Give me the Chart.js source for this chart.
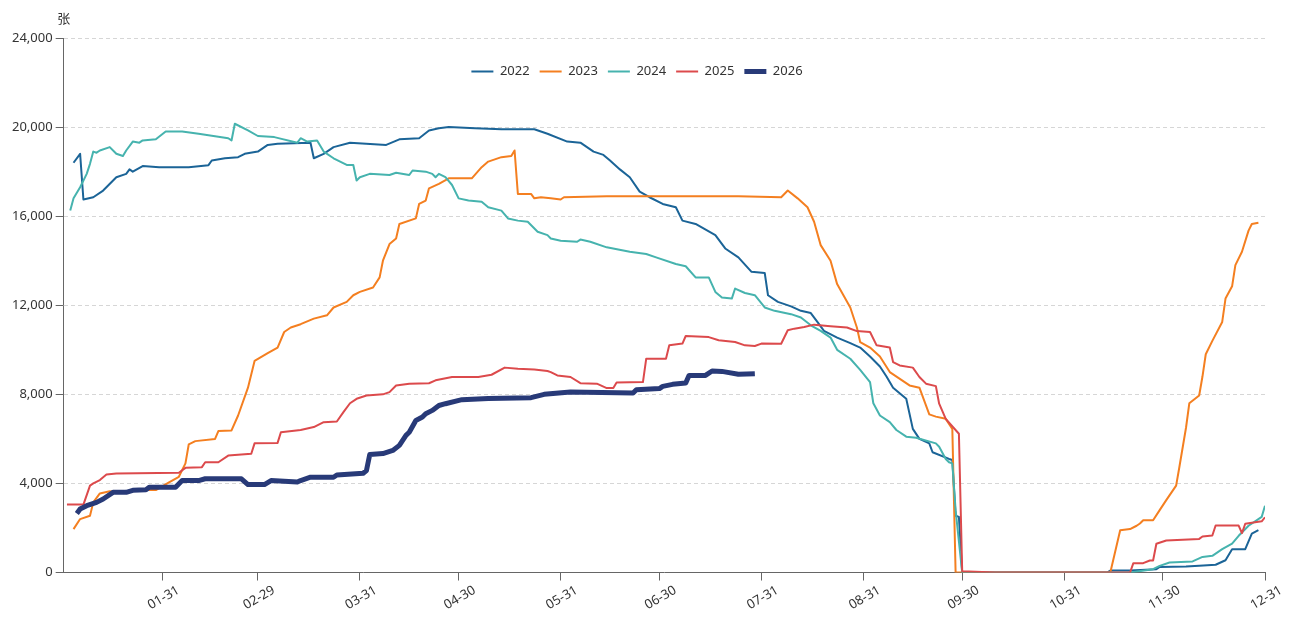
<!DOCTYPE html>
<html>
<head>
<meta charset="utf-8">
<script src="https://cdn.jsdelivr.net/npm/chart.js@4.4.1/dist/chart.umd.min.js"></script>
<style>
  html, body { margin: 0; padding: 0; background: #fff; }
  #box { width: 1291px; height: 625px; position: relative; }
</style>
</head>
<body>
<div id="box"><canvas id="kucun"></canvas></div>
<script>
// eixo x: dia do ano (0 = 01-01), rótulos no fim de cada mês
const tickDays = [30, 59, 90, 120, 151, 181, 212, 243, 273, 304, 334, 365];
const tickLabels = ['01-31', '02-29', '03-31', '04-30', '05-31', '06-30', '07-31', '08-31', '09-30', '10-31', '11-30', '12-31'];
const yTicks = [0, 4000, 8000, 12000, 16000, 20000, 24000];
const years = ['2022', '2023', '2024', '2025', '2026'];

const days2022 = [3,5,6,9,12,16,19,20,21,24,29,38,44,45,49,53,55,59,62,65,75,76,79,82,87,98,102,108,111,114,117,125,133,143,147,153,157,161,164,166,169,172,175,178,182,186,188,192,198,201,205,209,213,214,217,221,224,227,229,231,235,239,242,245,248,250,252,256,258,260,263,264,269,270,271,272,273,317,318,324,332,333,341,345,350,353,355,359,361,363];
const vals2022 = [18400,18800,16750,16850,17150,17750,17900,18100,18000,18250,18200,18200,18290,18500,18600,18650,18800,18900,19200,19250,19300,18600,18800,19100,19300,19200,19450,19500,19850,19950,20000,19950,19900,19900,19700,19350,19300,18900,18750,18500,18100,17750,17100,16850,16550,16400,15800,15650,15150,14550,14150,13500,13450,12450,12150,11950,11750,11650,11250,10850,10550,10300,10100,9700,9250,8800,8300,7800,6450,6000,5800,5400,5100,5050,2550,2500,0,0,90,90,150,250,270,300,350,550,1050,1050,1750,1900];

const days2023 = [3,5,8,9,11,14,17,25,28,32,35,37,38,40,46,47,51,53,56,58,62,65,67,69,72,76,80,82,86,88,90,94,96,97,99,101,102,107,108,110,111,114,117,124,127,129,133,136,137,138,142,143,145,148,151,152,165,185,205,218,220,223,226,228,230,233,235,239,241,242,245,248,251,257,260,263,265,268,270,271,318,321,324,326,327,328,331,333,335,338,339,341,342,345,346,347,349,352,353,355,356,358,360,361,363];
const vals2023 = [1950,2400,2550,3150,3550,3650,3600,3700,3700,4050,4300,4900,5750,5900,6000,6350,6380,7050,8300,9500,9850,10100,10800,11000,11150,11400,11550,11900,12150,12450,12600,12800,13250,14000,14750,15000,15650,15900,16550,16700,17250,17450,17700,17700,18200,18450,18650,18700,18950,17000,17000,16800,16850,16800,16750,16850,16900,16900,16900,16850,17150,16800,16400,15750,14700,14000,12950,11900,11000,10350,10100,9700,9000,8400,8300,7100,7000,6900,6450,0,0,1900,1950,2100,2200,2350,2350,2800,3250,3900,4750,6500,7600,7950,8800,9800,10400,11250,12300,12850,13800,14400,15350,15650,15700];

const days2024 = [2,3,4,5,7,8,9,10,11,14,16,18,19,21,23,24,28,31,36,41,50,51,52,56,59,64,71,72,74,77,79,82,86,88,89,90,93,99,101,105,106,110,112,113,114,116,118,120,123,127,129,133,135,138,141,144,147,148,151,156,157,160,165,172,177,180,186,189,192,196,198,200,203,204,207,210,213,216,221,224,227,230,233,235,239,242,245,246,248,251,253,256,259,265,266,268,269,270,271,273,324,331,333,336,343,346,349,352,355,357,360,364,365];
const vals2024 = [16250,16800,17050,17300,17900,18350,18900,18850,18950,19100,18800,18700,18950,19350,19300,19400,19450,19800,19800,19700,19500,19400,20150,19850,19600,19550,19300,19500,19350,19400,18900,18600,18300,18300,17600,17750,17900,17850,17950,17850,18050,18000,17900,17750,17900,17750,17400,16800,16700,16650,16400,16250,15900,15800,15750,15300,15150,15000,14900,14850,14950,14850,14600,14400,14300,14150,13850,13750,13250,13250,12600,12350,12300,12750,12550,12450,11900,11750,11600,11450,11100,10850,10550,10000,9600,9100,8550,7600,7050,6750,6400,6100,6050,5800,5650,5100,4950,4900,2800,0,0,150,300,450,500,700,750,1050,1300,1650,2100,2500,3000];

const days2025 = [1,6,8,9,11,13,16,35,37,42,43,47,50,57,58,65,66,72,76,79,83,85,87,89,92,97,99,101,105,111,113,118,126,130,134,138,143,147,148,150,154,157,162,165,167,168,176,177,183,184,188,189,196,199,204,207,210,212,218,220,222,225,228,233,238,241,245,247,251,252,254,258,260,262,265,266,268,272,273,283,324,325,328,330,331,332,335,345,346,349,350,357,358,359,364,365];
const vals2025 = [3050,3050,3900,4000,4150,4400,4450,4480,4700,4730,4950,4950,5250,5330,5800,5820,6300,6400,6530,6750,6780,7200,7600,7800,7950,8000,8100,8400,8480,8500,8630,8780,8780,8880,9200,9150,9120,9050,9000,8850,8780,8500,8480,8280,8280,8530,8550,9600,9600,10200,10280,10620,10570,10430,10350,10200,10170,10280,10270,10880,10950,11020,11130,11060,11000,10840,10800,10200,10100,9450,9300,9200,8780,8480,8370,7580,6900,6230,60,0,0,420,420,540,540,1290,1440,1510,1620,1660,2110,2110,1770,2190,2300,2480];

const days2026 = [4,5,7,10,12,15,19,21,25,26,34,36,41,43,54,56,61,63,71,72,75,82,83,91,92,93,97,100,102,104,105,107,109,110,112,114,116,121,129,142,146,154,173,174,181,182,185,189,190,195,197,200,205,210];
const vals2026 = [2650,2850,3000,3150,3300,3600,3600,3690,3720,3830,3830,4130,4130,4210,4210,3950,3950,4130,4060,4130,4280,4280,4380,4460,4580,5300,5340,5480,5710,6160,6300,6830,6980,7130,7280,7500,7580,7760,7810,7850,8000,8110,8060,8210,8260,8360,8450,8510,8850,8850,9050,9030,8900,8930];

const cores = ['#1b6497', '#f47f20', '#46b3ae', '#dc4a4c', '#283a78'];
const larguras = [2, 2, 2, 2, 5];

function pontos(dias, valores) {
  return dias.map((d, i) => ({ x: d, y: valores[i] }));
}

const series = [
  pontos(days2022, vals2022),
  pontos(days2023, vals2023),
  pontos(days2024, vals2024),
  pontos(days2025, vals2025),
  pontos(days2026, vals2026)
];

// move a legenda para dentro da área do gráfico e escreve a unidade
const extras = {
  id: 'extras',
  afterLayout(chart) {
    const lg = chart.legend;
    const h = lg.height;
    lg.top = chart.chartArea.top + 17;
    lg.bottom = lg.top + h;
  },
  afterDraw(chart) {
    const ctx = chart.ctx;
    ctx.save();
    ctx.font = '13px "Noto Sans CJK SC", "Noto Sans"';
    ctx.fillStyle = '#333';
    ctx.textAlign = 'center';
    ctx.textBaseline = 'middle';
    ctx.fillText('张', chart.chartArea.left, chart.chartArea.top - 20);
    ctx.restore();
  }
};

const ctx = document.getElementById('kucun').getContext('2d');
new Chart(ctx, {
  type: 'line',
  data: {
    datasets: series.map((s, i) => ({
      label: years[i],
      data: s,
      borderColor: cores[i],
      backgroundColor: cores[i],
      borderWidth: larguras[i],
      pointRadius: 0,
      pointHoverRadius: 0,
      tension: 0,
      borderJoinStyle: 'round',
      fill: false,
      order: years.length - i
    }))
  },
  options: {
    responsive: true,
    maintainAspectRatio: false,
    animation: false,
    locale: 'en-US',
    layout: { padding: { left: 9, right: 26, top: 5, bottom: 10 } },
    plugins: {
      legend: {
        display: true,
        position: 'top',
        labels: {
          usePointStyle: true,
          pointStyle: 'line',
          pointStyleWidth: 22,
          padding: 10,
          color: '#333',
          font: { family: '"Noto Sans", sans-serif', size: 13 },
          sort: (a, b) => a.datasetIndex - b.datasetIndex
        }
      },
      tooltip: { enabled: false }
    },
    scales: {
      x: {
        type: 'linear',
        min: 0,
        max: 365,
        afterBuildTicks: (scale) => {
          scale.ticks = tickDays.map(v => ({ value: v }));
        },
        grid: { drawOnChartArea: false, drawTicks: true, tickLength: 8, tickColor: '#666' },
        border: { color: '#666', width: 1 },
        ticks: {
          autoSkip: false,
          minRotation: 30,
          maxRotation: 30,
          labelOffset: 16,
          padding: 2,
          color: '#333',
          font: { family: '"Noto Sans", sans-serif', size: 13 },
          callback: (v, i) => tickLabels[i]
        }
      },
      y: {
        min: 0,
        max: 24000,
        afterBuildTicks: (scale) => {
          scale.ticks = yTicks.map(v => ({ value: v }));
        },
        grid: { color: '#d6d6d6', tickColor: '#666', tickLength: 8 },
        border: { color: '#666', width: 1, dash: [4, 3] },
        ticks: {
          padding: 3,
          color: '#333',
          font: { family: '"Noto Sans", sans-serif', size: 13 }
        }
      }
    }
  },
  plugins: [extras]
});
</script>
</body>
</html>
